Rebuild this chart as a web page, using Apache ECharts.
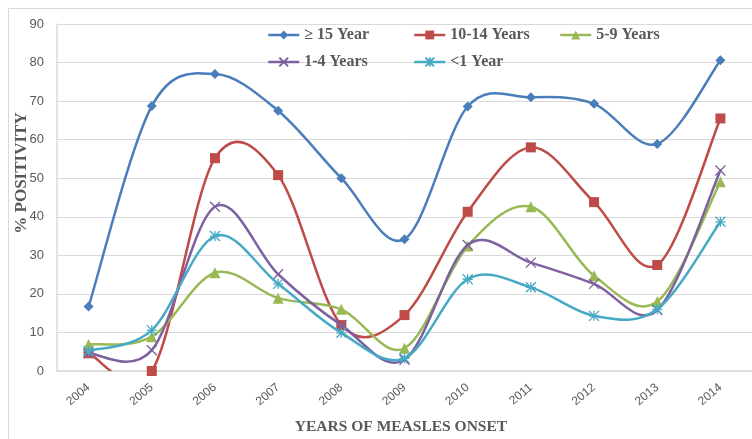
<!DOCTYPE html>
<html>
<head>
<meta charset="utf-8">
<script src="https://cdn.jsdelivr.net/npm/echarts@6/dist/echarts.min.js"></script>
<style>
html,body{margin:0;padding:0;background:#fff;}
#chart{width:752px;height:439px;}
</style>
</head>
<body>
<div id="chart"></div>
<script>
const years = ['2004','2005','2006','2007','2008','2009','2010','2011','2012','2013','2014'];
const seriesNames = ['≥ 15 Year','10-14 Years','5-9 Years','1-4 Years','<1 Year'];
const age15plus = [16.7, 68.7, 77.0, 67.5, 50.0, 34.2, 68.6, 71.0, 69.3, 58.9, 80.6];
const age10to14 = [4.6, 0.0, 55.2, 50.8, 11.9, 14.5, 41.3, 58.0, 43.8, 27.5, 65.5];
const age5to9 = [6.9, 8.9, 25.5, 18.9, 16.0, 5.9, 32.4, 42.6, 24.7, 18.0, 49.1];
const age1to4 = [4.6, 5.4, 42.6, 25.1, 11.9, 2.9, 32.7, 28.1, 22.6, 15.8, 52.0];
const ageUnder1 = [5.2, 10.6, 35.0, 22.6, 9.9, 3.3, 23.8, 21.7, 14.3, 16.0, 38.7];
const yTicks = [0,10,20,30,40,50,60,70,80,90];

const colors = ['#4A7EBB','#BE4B48','#98B954','#7D60A0','#46AAC5'];
const symbols = [
  'diamond',
  'rect',
  'triangle',
  'path://M0,0L10,10M10,0L0,10',
  'path://M0,0L10,10M10,0L0,10M5,0L5,10M0,5L10,5'
];
const symbolSizes = [10, 10, 11, 10, 10];
const dataArr = [age15plus, age10to14, age5to9, age1to4, ageUnder1];

// Smoothed curve (Catmull-Rom style, like a spreadsheet smoothed line) built on the axes' own coordinates
function curveRenderer(values, color) {
  return function (params, api) {
    const pts = values.map((v, i) => api.coord([i, v]));
    const children = [];
    for (let i = 0; i < pts.length - 1; i++) {
      const p0 = pts[i - 1] || pts[i];
      const p1 = pts[i];
      const p2 = pts[i + 1];
      const p3 = pts[i + 2] || pts[i + 1];
      children.push({
        type: 'bezierCurve',
        shape: {
          x1: p1[0], y1: p1[1],
          cpx1: p1[0] + (p2[0] - p0[0]) / 6, cpy1: p1[1] + (p2[1] - p0[1]) / 6,
          cpx2: p2[0] - (p3[0] - p1[0]) / 6, cpy2: p2[1] - (p3[1] - p1[1]) / 6,
          x2: p2[0], y2: p2[1]
        },
        style: { fill: null, stroke: color, lineWidth: 2.5, lineCap: 'round' }
      });
    }
    return { type: 'group', children: children };
  };
}

const series = [];
seriesNames.forEach((n, i) => {
  series.push({
    type: 'custom',
    data: [[0, dataArr[i][0]]],
    renderItem: curveRenderer(dataArr[i], colors[i]),
    clip: true,
    silent: true,
    z: 2 + i * 2
  });
  series.push({
    name: n,
    type: 'line',
    data: dataArr[i],
    symbol: symbols[i],
    symbolSize: symbolSizes[i],
    showAllSymbol: true,
    lineStyle: { color: colors[i], width: 2.5, opacity: 0 },
    itemStyle: { color: colors[i], borderColor: colors[i], borderWidth: i >= 3 ? 1.3 : 0 },
    emphasis: { disabled: true },
    z: 3 + i * 2
  });
});

const legendPos = [[267, 26], [413, 26], [559, 26], [267, 53], [413, 53]];
const legends = seriesNames.map((n, i) => ({
  data: [n],
  left: legendPos[i][0],
  top: legendPos[i][1],
  padding: 0,
  itemWidth: 31,
  itemHeight: 11,
  lineStyle: { color: colors[i], width: 2.5, opacity: 1 },
  textStyle: { fontFamily: 'Liberation Serif', fontWeight: 'bold', fontSize: 16, color: '#595959', lineHeight: 18 }
}));

const chart = echarts.init(document.getElementById('chart'), null, { renderer: 'canvas' });
chart.setOption({
  animation: false,
  backgroundColor: '#fff',
  color: colors,
  legend: legends,
  grid: { left: 57, right: -11, top: 24, bottom: 68, containLabel: false },
  xAxis: {
    type: 'category',
    data: years,
    boundaryGap: true,
    axisLine: { show: true, lineStyle: { color: '#D9D9D9', width: 1.5 } },
    axisTick: { show: false },
    axisLabel: { rotate: 40, color: '#595959', fontSize: 12, fontFamily: 'Liberation Sans', margin: 15 },
    splitLine: { show: false }
  },
  yAxis: {
    type: 'value',
    min: yTicks[0],
    max: yTicks[yTicks.length - 1],
    interval: 10,
    axisLine: { show: true, lineStyle: { color: '#D9D9D9', width: 1.5 } },
    axisTick: { show: false },
    axisLabel: { color: '#595959', fontSize: 13, fontFamily: 'Liberation Sans', margin: 13 },
    splitLine: { show: true, lineStyle: { color: '#D9D9D9', width: 1 } }
  },
  graphic: [
    { type: 'rect', shape: { x: 8.5, y: 8.5, width: 760, height: 440 }, style: { fill: 'none', stroke: '#D9D9D9', lineWidth: 1 }, silent: true },
    { type: 'text', x: 22, y: 173, rotation: Math.PI / 2, style: { text: '% POSITIVITY', fontFamily: 'Liberation Serif', fontWeight: 'bold', fontSize: 17, fill: '#595959', align: 'center', verticalAlign: 'middle' } },
    { type: 'text', x: 401, y: 427, style: { text: 'YEARS OF MEASLES ONSET', fontFamily: 'Liberation Serif', fontWeight: 'bold', fontSize: 15.5, fill: '#595959', align: 'center', verticalAlign: 'middle' } }
  ],
  series: series
});
</script>
</body>
</html>
